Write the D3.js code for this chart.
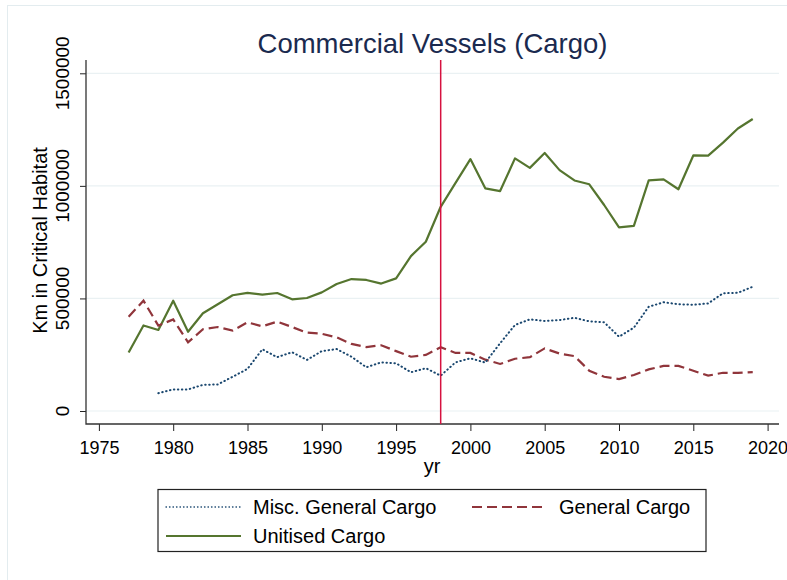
<!DOCTYPE html>
<html lang="en">
<head>
<meta charset="UTF-8">
<title>Commercial Vessels (Cargo)</title>
<style>
  body { margin: 0; background: #fff; }
  svg { display: block; font-family: "Liberation Sans", Arial, Helvetica, sans-serif; }
</style>
</head>
<body>
<svg id="chart" width="787" height="580"></svg>

<script src="https://cdn.jsdelivr.net/npm/d3@7"></script>
<script>
// data
var years = d3.range(1977, 2020);
var unitised = [260000, 380000, 360000, 490000, 352000, 434000, 474000, 514000, 525000, 517000,
  524000, 496000, 502000, 527000, 564000, 586000, 582000, 566000, 589000, 688000,
  752000, 907000, 1013000, 1119000, 989000, 977000, 1122000, 1080000, 1146000, 1070000,
  1024000, 1007000, 915000, 816000, 822000, 1024000, 1029000, 985000, 1135000, 1134000,
  1192000, 1255000, 1297000];
var generalCargo = [419000, 490000, 379000, 407000, 305000, 363000, 373000, 357000, 394000, 376000,
  397000, 373000, 348000, 343000, 327000, 298000, 284000, 292000, 266000, 241000,
  249000, 283000, 258000, 258000, 228000, 209000, 232000, 239000, 278000, 255000,
  244000, 179000, 152000, 142000, 160000, 185000, 200000, 200000, 179000, 157000,
  170000, 169000, 173000];
// misc. general cargo starts in 1979
var miscGeneral = [null, null, 79000, 96000, 96000, 116000, 118000, 152000, 187000, 274000,
  239000, 261000, 227000, 266000, 275000, 241000, 194000, 216000, 212000, 172000,
  190000, 157000, 216000, 234000, 215000, 301000, 382000, 407000, 400000, 404000,
  414000, 398000, 394000, 330000, 370000, 463000, 483000, 474000, 472000, 478000,
  523000, 525000, 552000];
var xTicks = [1975, 1980, 1985, 1990, 1995, 2000, 2005, 2010, 2015, 2020];
var yTicks = [0, 500000, 1000000, 1500000];
var markYear = 1998;

var svg = d3.select("#chart");

var x = d3.scaleLinear().domain([1975, 2020]).range([98.9, 767.6]),
    y = d3.scaleLinear().domain([0, 1500000]).range([411, 73.3]);

// plot box edges (don't call it "top", that's window.top)
var pLeft = 86, pRight = 779, pTop = 60, pBottom = 424;

// outer graph border (light)
svg.append("rect")
  .attr("x", 7.5).attr("y", 5.5)
  .attr("width", 800).attr("height", 600)
  .attr("fill", "none").attr("stroke", "#e3ecef").attr("stroke-width", 1);

// grid lines
svg.append("g").selectAll("line").data(yTicks).enter().append("line")
  .attr("x1", pLeft).attr("x2", pRight)
  .attr("y1", function (d) { return y(d); })
  .attr("y2", function (d) { return y(d); })
  .attr("stroke", "#eaf1f3").attr("stroke-width", 1.2);

// y axis
var yAxis = svg.append("g")
  .attr("transform", "translate(" + pLeft + ",0)")
  .call(d3.axisLeft(y).tickValues(yTicks).tickSize(6).tickSizeOuter(0).tickFormat(""));
yAxis.select(".domain").remove();
yAxis.selectAll(".tick line").attr("stroke", "#222");

svg.append("g").selectAll("text").data(yTicks).enter().append("text")
  .attr("transform", function (d) { return "translate(69," + y(d) + ") rotate(-90)"; })
  .attr("text-anchor", "middle")
  .attr("font-size", 19)
  .attr("fill", "#000")
  .text(function (d) { return d; });

// x axis
var xAxis = svg.append("g")
  .attr("transform", "translate(0," + pBottom + ")")
  .call(d3.axisBottom(x).tickValues(xTicks).tickSize(7).tickSizeOuter(0).tickFormat(d3.format("d")));
xAxis.select(".domain").remove();
xAxis.selectAll(".tick line").attr("stroke", "#222");
xAxis.selectAll(".tick text")
  .attr("font-size", 18).attr("fill", "#000")
  .attr("font-family", "'Liberation Sans', Arial, sans-serif")
  .attr("dy", "1.1em");

// axis lines
svg.append("path")
  .attr("d", "M" + pLeft + "," + pTop + "V" + pBottom + "H" + pRight)
  .attr("fill", "none").attr("stroke", "#333").attr("stroke-width", 1.3);

// series
function lineFor(vals) {
  return d3.line()
    .defined(function (d, i) { return vals[i] != null; })
    .x(function (d, i) { return x(years[i]); })
    .y(function (d, i) { return y(vals[i]); })(vals);
}

svg.append("path")
  .attr("d", lineFor(unitised))
  .attr("fill", "none").attr("stroke", "#55752f").attr("stroke-width", 2.2)
  .attr("stroke-linejoin", "round");

svg.append("path")
  .attr("d", lineFor(generalCargo))
  .attr("fill", "none").attr("stroke", "#90353b").attr("stroke-width", 2.2)
  .attr("stroke-dasharray", "10,5");

svg.append("path")
  .attr("d", lineFor(miscGeneral))
  .attr("fill", "none").attr("stroke", "#1a476f").attr("stroke-width", 2)
  .attr("stroke-linecap", "round")
  .attr("stroke-dasharray", "0.5,3.5");

// vertical marker
svg.append("line")
  .attr("x1", x(markYear)).attr("x2", x(markYear))
  .attr("y1", pTop).attr("y2", pBottom)
  .attr("stroke", "#d6113f").attr("stroke-width", 1.5);

// title and axis titles
svg.append("text")
  .attr("x", 432.5).attr("y", 52.5)
  .attr("text-anchor", "middle")
  .attr("font-size", 27.5)
  .attr("fill", "#1a2a4f")
  .text("Commercial Vessels (Cargo)");

svg.append("text")
  .attr("transform", "translate(47,240.5) rotate(-90)")
  .attr("text-anchor", "middle")
  .attr("font-size", 20)
  .attr("fill", "#000")
  .text("Km in Critical Habitat");

svg.append("text")
  .attr("x", 432).attr("y", 473)
  .attr("text-anchor", "middle")
  .attr("font-size", 20)
  .attr("fill", "#000")
  .text("yr");

// legend
var legend = svg.append("g");
legend.append("rect")
  .attr("x", 158).attr("y", 489.5)
  .attr("width", 548).attr("height", 62)
  .attr("fill", "#fff").attr("stroke", "#222").attr("stroke-width", 1.2);

var items = [
  { name: "Misc. General Cargo", color: "#1a476f", dash: "0.5,3", cap: "round", w: 1.3, lx: 166, ly: 507 },
  { name: "General Cargo", color: "#90353b", dash: "10,5", cap: "butt", w: 2.2, lx: 472, ly: 507 },
  { name: "Unitised Cargo", color: "#55752f", dash: null, cap: "butt", w: 2.2, lx: 166, ly: 536 }
];
items.forEach(function (it) {
  legend.append("line")
    .attr("x1", it.lx).attr("x2", it.lx + 75)
    .attr("y1", it.ly).attr("y2", it.ly)
    .attr("stroke", it.color).attr("stroke-width", it.w)
    .attr("stroke-linecap", it.cap)
    .attr("stroke-dasharray", it.dash);
  legend.append("text")
    .attr("x", it.lx + 87).attr("y", it.ly + 7)
    .attr("font-size", 20)
    .attr("fill", "#000")
    .text(it.name);
});
</script>
</body>
</html>
